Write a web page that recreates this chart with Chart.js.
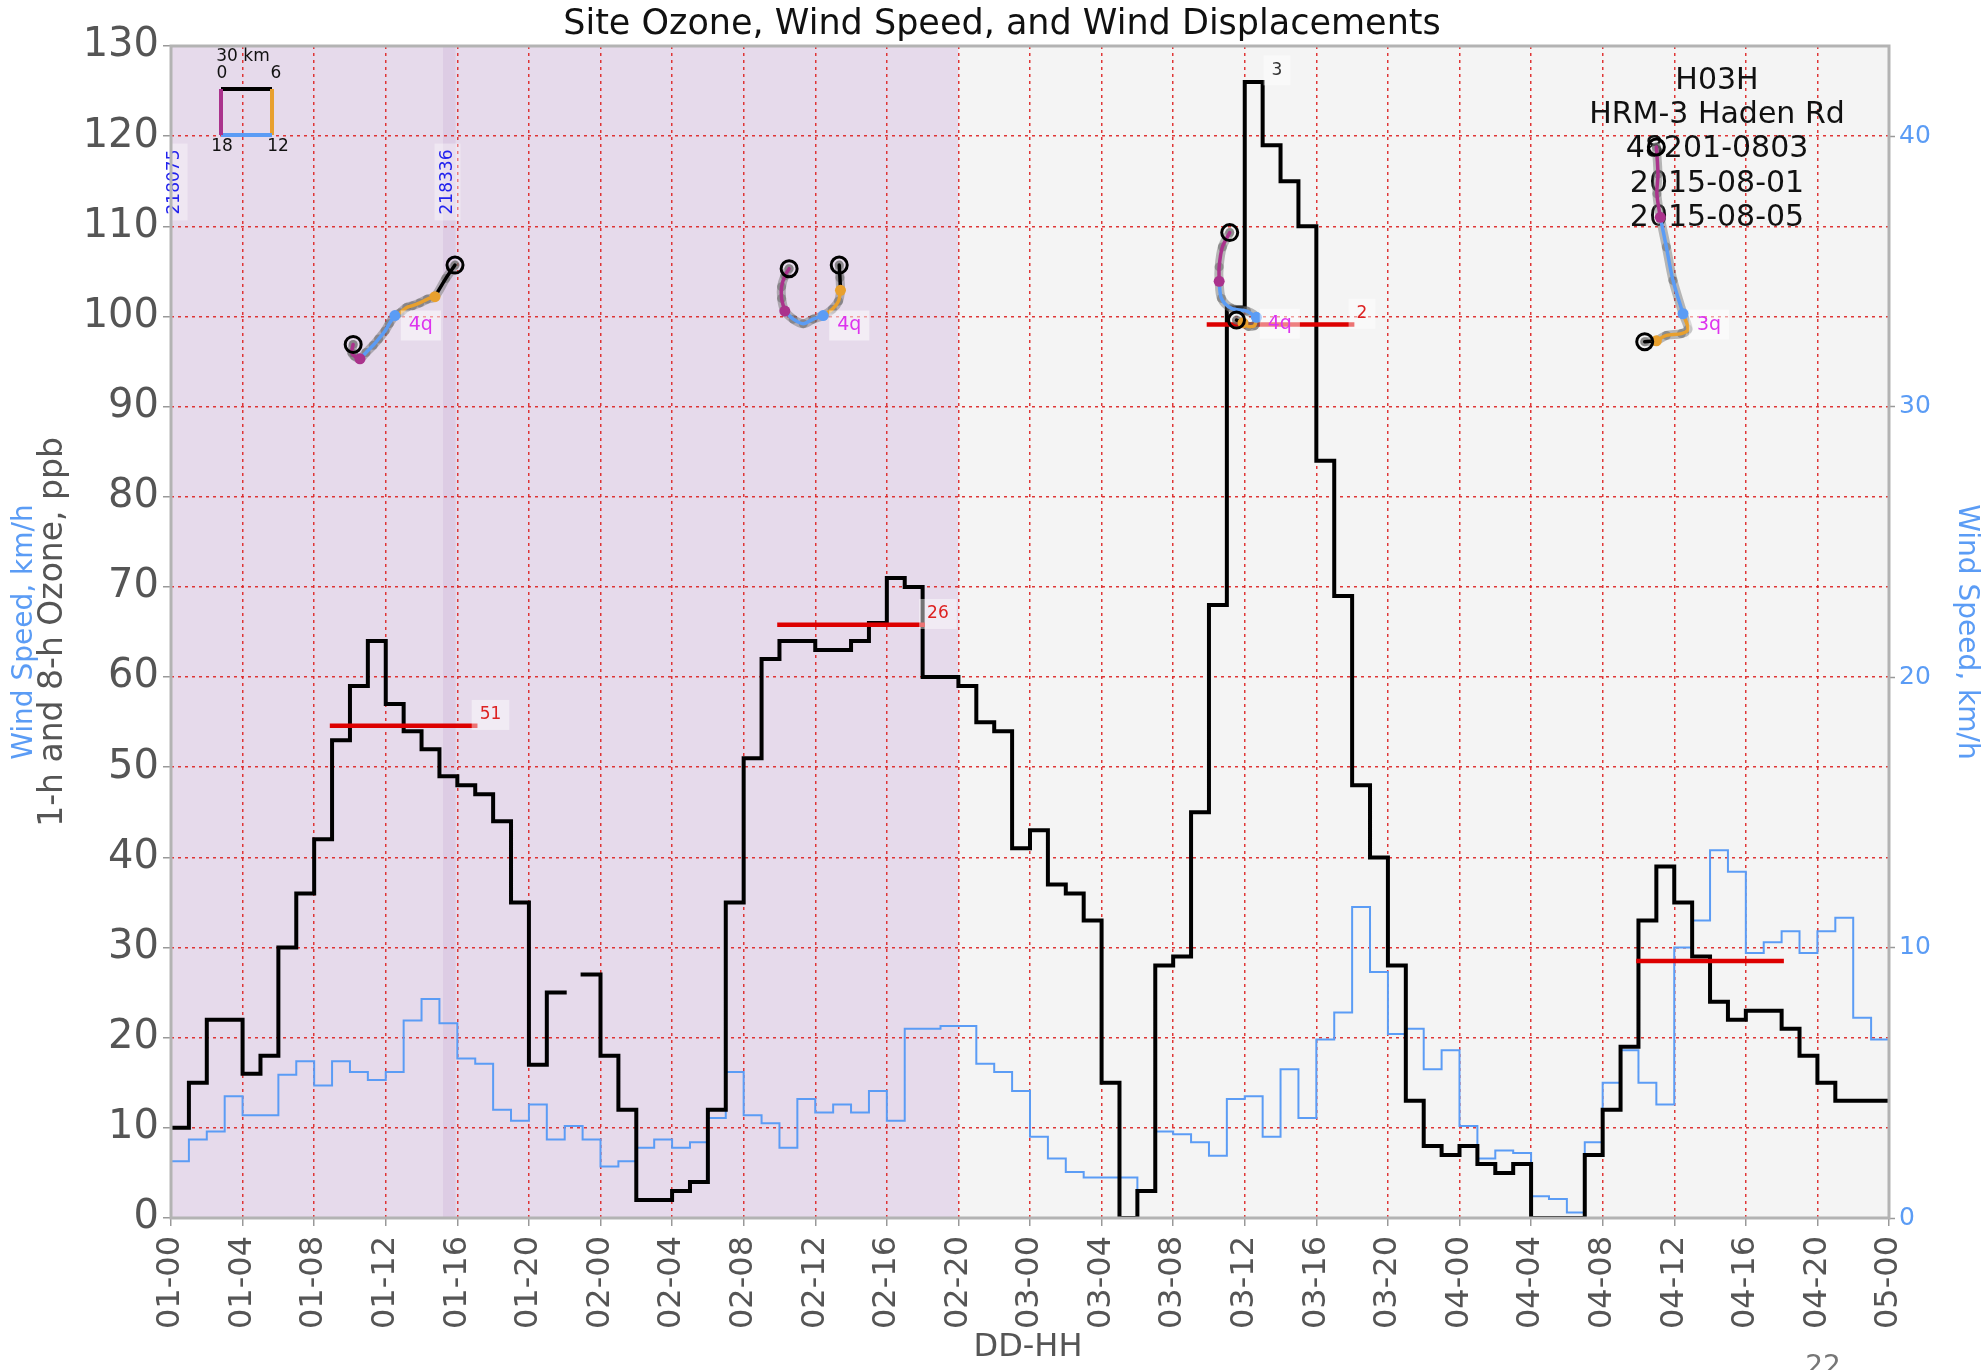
<!DOCTYPE html>
<html lang="en">
<head>
  <meta charset="UTF-8">
  <title>Site Ozone, Wind Speed, and Wind Displacements</title>
  <style>
    html, body { margin: 0; padding: 0; background: #fff; }
    canvas { display: block; }
  </style>
</head>
<body>
  <canvas id="chart" width="1985" height="1370"></canvas>
  <script src="https://cdn.jsdelivr.net/npm/chart.js"></script>
  <script>
    // hours since 01-00, tick every 4 hours
    const hourTickLabels = [
      '01-00', '01-04', '01-08', '01-12', '01-16', '01-20',
      '02-00', '02-04', '02-08', '02-12', '02-16', '02-20',
      '03-00', '03-04', '03-08', '03-12', '03-16', '03-20',
      '04-00', '04-04', '04-08', '04-12', '04-16', '04-20', '05-00'
    ];

    // 1-h ozone, ppb (hour 0 .. 96)
    const ozone = [
      10, 15, 22, 22, 16, 18, 30, 36, 42, 53, 59, 64, 57, 54, 52, 49, 48, 47, 44, 35, 17, 25, null, 27,
      18, 12, 2, 2, 3, 4, 12, 35, 51, 62, 64, 64, 63, 63, 64, 66, 71, 70, 60, 60, 59, 55, 54, 41,
      43, 37, 36, 33, 15, 0, 3, 28, 29, 45, 68, 101, 126, 119, 115, 110, 84, 69, 48, 40, 28, 13, 8, 7,
      8, 6, 5, 6, 0, 0, 0, 7, 12, 19, 33, 39, 35, 29, 24, 22, 23, 23, 21, 18, 15, 13, 13, 13, 13
    ];

    // wind speed, km/h (hour 0 .. 96)
    const windSpeed = [
      2.1, 2.9, 3.2, 4.5, 3.8, 3.8, 5.3, 5.8, 4.9, 5.8, 5.4, 5.1, 5.4, 7.3, 8.1, 7.2, 5.9, 5.7, 4.0, 3.6, 4.2, 2.9, 3.4, 2.9,
      1.9, 2.1, 2.6, 2.9, 2.6, 2.8, 3.7, 5.4, 3.8, 3.5, 2.6, 4.4, 3.9, 4.2, 3.9, 4.7, 3.6, 7.0, 7.0, 7.1, 7.1, 5.7, 5.4, 4.7,
      3.0, 2.2, 1.7, 1.5, 1.5, 1.5, 1.0, 3.2, 3.1, 2.8, 2.3, 4.4, 4.5, 3.0, 5.5, 3.7, 6.6, 7.6, 11.5, 9.1, 6.8, 7.0, 5.5, 6.2,
      3.4, 2.2, 2.5, 2.4, 0.8, 0.7, 0.2, 2.8, 5.0, 6.2, 5.0, 4.2, 10.0, 11.0, 13.6, 12.8, 9.8, 10.2, 10.6, 9.8, 10.6, 11.1, 7.4, 6.6, 5.9
    ];

    // daily max 8-h ozone
    const eightHourStart = [9, 34, 58, 82];
    const eightHourValue = [54.6, 65.8, 99.1, 28.5];
    const eightHourRank = ['51', '26', '2', ''];

    // peak 1-h marker
    const peakLabel = { text: '3', hour: 61.5, ppb: 127.3 };

    // wind displacement paths (hour, ppb) split in 6-h pieces: 0-6, 6-12, 12-18, 18-24
    const traj1 = [
      [[15.87, 105.7], [15.35, 104.2], [14.75, 102.2]],
      [[14.75, 102.2], [14.3, 101.9], [13.9, 101.5], [13.5, 101.2], [13.17, 101.0], [12.8, 100.4], [12.51, 100.1]],
      [[12.51, 100.1], [12.2, 99.2], [11.96, 98.4], [11.6, 97.5], [11.3, 96.8], [10.9, 96.0], [10.56, 95.3]],
      [[10.56, 95.3], [10.25, 95.6], [10.1, 96.0], [10.18, 96.9]]
    ];
    const traj2 = [
      [[37.34, 105.7], [37.38, 104.3], [37.41, 102.9]],
      [[37.41, 102.9], [37.3, 101.7], [36.95, 100.8], [36.44, 100.1]],
      [[36.44, 100.1], [35.88, 99.7], [35.33, 99.2], [34.77, 99.7], [34.3, 100.6]],
      [[34.3, 100.6], [34.12, 102.0], [34.12, 103.3], [34.3, 104.5], [34.54, 105.3]]
    ];
    const traj3 = [
      [[59.54, 99.6], [59.9, 99.3]],
      [[59.9, 99.3], [60.2, 98.9], [60.55, 99.0], [60.65, 99.9]],
      [[60.65, 99.9], [60.1, 100.6], [59.26, 100.9], [58.7, 102.0], [58.57, 103.9]],
      [[58.57, 103.9], [58.57, 105.5], [58.75, 107.7], [59.16, 109.3]]
    ];
    const traj4 = [
      [[82.35, 97.2], [83.0, 97.3]],
      [[83.0, 97.3], [83.56, 97.9], [84.4, 98.1], [84.77, 98.6], [84.49, 100.3]],
      [[84.49, 100.3], [83.93, 104.0], [83.56, 107.7], [83.22, 111.0]],
      [[83.22, 111.0], [83.03, 113.6], [83.09, 115.8], [83.0, 118.8]]
    ];
    const trajLabels = ['4q', '4q', '4q', '3q'];
    const trajLabelAt = [[13.96, 99.0], [37.9, 99.0], [61.96, 99.2], [85.94, 99.1]];

    const siteInfo = ['H03H', 'HRM-3 Haden Rd', '48201-0803', '2015-08-01', '2015-08-05'];
    const stationIds = ['218075', '218336'];
    const stationHours = [0.2, 15.45];
    const shadedSpans = [[0, 44], [15.2, 15.9]];

    const FONT = '"DejaVu Sans", Verdana, sans-serif';
    const WIND_BLUE = '#5b9cf5';
    const segColors = ['#000000', '#e8a02e', '#5b9cf5', '#aa328c'];
    const shadeColors = ['#e6daeb', '#ddcce4'];

    function toSteps(values) {
      const pts = [];
      values.forEach((v, i) => {
        pts.push({ x: i, y: v });
        if (i < values.length - 1) pts.push({ x: i + 1, y: v });
      });
      return pts;
    }

    const xy = ([x, y]) => ({ x, y });

    const datasets = [
      {
        data: toSteps(windSpeed), yAxisID: 'y2', borderColor: WIND_BLUE, borderWidth: 2,
        pointRadius: 0, borderCapStyle: 'square', borderJoinStyle: 'miter', order: 6
      },
      {
        data: toSteps(ozone), yAxisID: 'y', borderColor: '#000', borderWidth: 4,
        pointRadius: 0, borderCapStyle: 'square', borderJoinStyle: 'miter', order: 5
      }
    ];

    eightHourStart.forEach((h, i) => {
      datasets.push({
        data: [{ x: h, y: eightHourValue[i] }, { x: h + 8, y: eightHourValue[i] }],
        borderColor: '#dd0000', borderWidth: 4.5, pointRadius: 0, borderCapStyle: 'square', order: 4
      });
    });

    [traj1, traj2, traj3, traj4].forEach((traj) => {
      const path = traj.flatMap((seg, k) => (k === 0 ? seg : seg.slice(1)));
      datasets.push({
        data: path.map(xy), borderColor: 'rgba(105,105,105,0.45)', borderWidth: 9,
        pointRadius: 4.5, pointBorderWidth: 0, pointBackgroundColor: 'rgba(105,105,105,0.55)',
        tension: 0.3, borderCapStyle: 'round', borderJoinStyle: 'round', order: 3
      });
      traj.forEach((seg, k) => {
        datasets.push({
          data: seg.map(xy), borderColor: segColors[k], borderWidth: 3.5, pointRadius: 0,
          tension: 0.3, borderCapStyle: 'round', borderJoinStyle: 'round', order: 2
        });
      });
      datasets.push({
        data: traj.slice(1).map((seg) => xy(seg[0])), showLine: false, pointRadius: 5.5,
        pointBorderWidth: 0, pointBackgroundColor: segColors.slice(1), order: 1
      });
      const last = traj[3][traj[3].length - 1];
      datasets.push({
        data: [xy(traj[0][0]), xy(last)], showLine: false, pointRadius: 8,
        pointBorderWidth: 3, pointBorderColor: '#000', pointBackgroundColor: 'rgba(0,0,0,0)', order: 0
      });
    });

    function boxedText(ctx, text, x, y, font, color, align, boxAlpha) {
      ctx.font = font;
      ctx.textAlign = align;
      ctx.textBaseline = 'middle';
      const w = ctx.measureText(text).width;
      const left = align === 'left' ? x : x - w / 2;
      ctx.fillStyle = `rgba(255,255,255,${boxAlpha})`;
      ctx.fillRect(left - 8, y - 15, w + 16, 30);
      ctx.fillStyle = color;
      ctx.fillText(text, x, y);
    }

    const decor = {
      id: 'decor',
      beforeDraw(chart) {
        const { ctx, chartArea: a, scales: { x } } = chart;
        ctx.save();
        ctx.fillStyle = '#ffffff';
        ctx.fillRect(0, 0, chart.width, chart.height);
        ctx.fillStyle = '#f4f4f4';
        ctx.fillRect(a.left, a.top, a.width, a.height);
        shadedSpans.forEach(([from, to], i) => {
          const x0 = x.getPixelForValue(from);
          const x1 = x.getPixelForValue(to);
          ctx.fillStyle = shadeColors[i];
          ctx.fillRect(x0, a.top, x1 - x0, a.height);
        });
        ctx.restore();
      },
      beforeDatasetsDraw(chart) {
        const { ctx, chartArea: a, scales: { x } } = chart;
        ctx.save();
        // site block
        ctx.font = `30px ${FONT}`;
        ctx.fillStyle = '#111';
        ctx.textAlign = 'center';
        ctx.textBaseline = 'middle';
        siteInfo.forEach((line, i) => ctx.fillText(line, 1717, 81 + i * 34.3));

        // displacement key
        const kx = a.left + 50, ky = a.top + 43, kw = 51, kh = 46;
        ctx.lineWidth = 4;
        [[kx, ky, kx + kw, ky], [kx + kw, ky, kx + kw, ky + kh], [kx + kw, ky + kh, kx, ky + kh], [kx, ky + kh, kx, ky]]
          .forEach(([x0, y0, x1, y1], i) => {
            ctx.strokeStyle = segColors[i];
            ctx.beginPath();
            ctx.moveTo(x0, y0);
            ctx.lineTo(x1, y1);
            ctx.stroke();
          });
        ctx.fillStyle = '#111';
        ctx.font = `17px ${FONT}`;
        ctx.fillText('30 km', kx + 22, ky - 32);
        ctx.fillText('0', kx + 1, ky - 15);
        ctx.fillText('6', kx + kw + 4, ky - 15);
        ctx.fillText('18', kx + 1, ky + kh + 12);
        ctx.fillText('12', kx + kw + 6, ky + kh + 12);

        // station ids
        stationIds.forEach((id, i) => {
          const px = x.getPixelForValue(stationHours[i]);
          ctx.save();
          ctx.translate(px, 182);
          ctx.rotate(-Math.PI / 2);
          ctx.font = `17px ${FONT}`;
          const w = ctx.measureText(id).width;
          ctx.fillStyle = 'rgba(255,255,255,0.35)';
          ctx.fillRect(-w / 2 - 6, -13, w + 12, 26);
          ctx.fillStyle = '#2222ee';
          ctx.textAlign = 'center';
          ctx.textBaseline = 'middle';
          ctx.fillText(id, 0, 0);
          ctx.restore();
        });
        ctx.restore();
      },
      afterDatasetsDraw(chart) {
        const { ctx, chartArea: a, scales: { x, y } } = chart;
        ctx.save();
        eightHourStart.forEach((h, i) => {
          if (!eightHourRank[i]) return;
          boxedText(ctx, eightHourRank[i], x.getPixelForValue(h + 8.25), y.getPixelForValue(eightHourValue[i] + 1.2),
            `17px ${FONT}`, '#dd2222', 'left', 0.45);
        });
        boxedText(ctx, peakLabel.text, x.getPixelForValue(peakLabel.hour), y.getPixelForValue(peakLabel.ppb),
          `17px ${FONT}`, '#333', 'left', 0.45);
        trajLabels.forEach((t, i) => {
          boxedText(ctx, t, x.getPixelForValue(trajLabelAt[i][0]), y.getPixelForValue(trajLabelAt[i][1]),
            `19px ${FONT}`, '#dd33ee', 'center', 0.5);
        });
        ctx.strokeStyle = '#b3b3b3';
        ctx.lineWidth = 3;
        ctx.strokeRect(a.left, a.top, a.width, a.height);
        ctx.restore();
      },
      afterDraw(chart) {
        const { ctx, chartArea: a } = chart;
        const midY = (a.top + a.bottom) / 2;
        ctx.save();
        ctx.textAlign = 'center';
        ctx.textBaseline = 'middle';
        ctx.fillStyle = '#111';
        ctx.font = `35px ${FONT}`;
        ctx.fillText('Site Ozone, Wind Speed, and Wind Displacements', 1002, 25);

        ctx.fillStyle = '#555';
        ctx.font = `32px ${FONT}`;
        ctx.fillText('DD-HH', 1028, 1348);
        ctx.font = `28px ${FONT}`;
        ctx.fillStyle = '#777';
        ctx.fillText('22', 1823, 1368);

        ctx.save();
        ctx.translate(53, midY);
        ctx.rotate(-Math.PI / 2);
        ctx.fillStyle = '#555';
        ctx.font = `33px ${FONT}`;
        ctx.fillText('1-h and 8-h Ozone, ppb', 0, 0);
        ctx.restore();

        ctx.save();
        ctx.translate(25, midY);
        ctx.rotate(-Math.PI / 2);
        ctx.fillStyle = WIND_BLUE;
        ctx.font = `28px ${FONT}`;
        ctx.fillText('Wind Speed, km/h', 0, 0);
        ctx.restore();

        ctx.save();
        ctx.translate(1966, midY);
        ctx.rotate(Math.PI / 2);
        ctx.fillStyle = WIND_BLUE;
        ctx.font = `28px ${FONT}`;
        ctx.fillText('Wind Speed, km/h', 0, 0);
        ctx.restore();
        ctx.restore();
      }
    };

    const gridRed = {
      color: 'rgba(221,34,34,0.9)', lineWidth: 1.5, tickColor: '#999', tickLength: 8, tickWidth: 1.5
    };

    new Chart(document.getElementById('chart'), {
      type: 'line',
      data: { datasets },
      plugins: [decor],
      options: {
        responsive: false,
        devicePixelRatio: 1,
        animation: false,
        layout: { padding: { top: 46, left: 0, right: 0, bottom: 0 } },
        plugins: { legend: { display: false }, title: { display: false }, tooltip: { enabled: false } },
        scales: {
          x: {
            type: 'linear', min: 0, max: 96,
            grid: gridRed,
            border: { display: false, dash: [3, 4] },
            ticks: {
              stepSize: 4, autoSkip: false, minRotation: 90, maxRotation: 90, padding: 10,
              color: '#555', font: { family: FONT, size: 32 },
              callback: (v) => hourTickLabels[v / 4]
            },
            afterFit: (s) => { s.height = 152; }
          },
          y: {
            position: 'left', min: 0, max: 130,
            grid: gridRed,
            border: { display: false, dash: [3, 4] },
            ticks: { stepSize: 10, padding: 4, color: '#555', font: { family: FONT, size: 40 } },
            afterFit: (s) => { s.width = 171; }
          },
          y2: {
            position: 'right', min: 0, max: 130 / 3,
            grid: { drawOnChartArea: false, tickColor: '#999', tickLength: 6, tickWidth: 1.5 },
            border: { display: false },
            ticks: { stepSize: 10, padding: 4, color: WIND_BLUE, font: { family: FONT, size: 25 } },
            afterBuildTicks: (s) => { s.ticks = s.ticks.filter((t) => t.value % 10 === 0); },
            afterFit: (s) => { s.width = 96; }
          }
        }
      }
    });
  </script>
</body>
</html>
